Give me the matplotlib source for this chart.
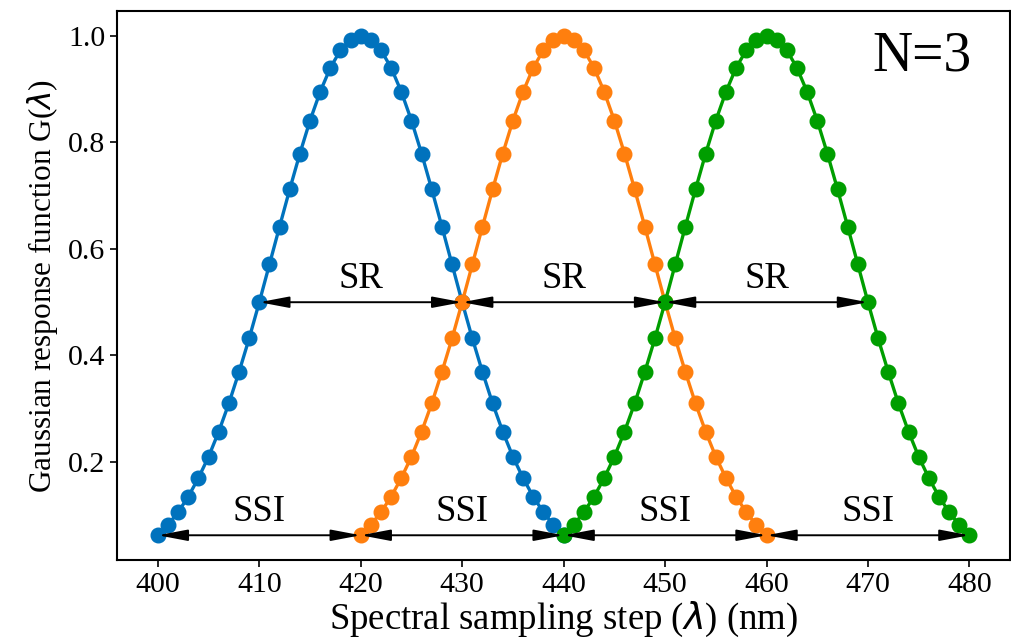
import matplotlib
matplotlib.use("Agg")
import matplotlib.pyplot as plt

# ---- data ----
wl_blue = list(range(400, 441))
wl_orange = list(range(420, 461))
wl_green = list(range(440, 481))

g_blue = [0.0625, 0.082, 0.106, 0.135, 0.170, 0.210, 0.257, 0.310, 0.369, 0.432,
          0.500, 0.571, 0.642, 0.712, 0.779, 0.841, 0.895, 0.940, 0.973, 0.993,
          1.000,
          0.993, 0.973, 0.940, 0.895, 0.841, 0.779, 0.712, 0.642, 0.571, 0.500,
          0.432, 0.369, 0.310, 0.257, 0.210, 0.170, 0.135, 0.106, 0.082, 0.0625]
g_orange = [0.0625, 0.082, 0.106, 0.135, 0.170, 0.210, 0.257, 0.310, 0.369, 0.432,
            0.500, 0.571, 0.642, 0.712, 0.779, 0.841, 0.895, 0.940, 0.973, 0.993,
            1.000,
            0.993, 0.973, 0.940, 0.895, 0.841, 0.779, 0.712, 0.642, 0.571, 0.500,
            0.432, 0.369, 0.310, 0.257, 0.210, 0.170, 0.135, 0.106, 0.082, 0.0625]
g_green = [0.0625, 0.082, 0.106, 0.135, 0.170, 0.210, 0.257, 0.310, 0.369, 0.432,
           0.500, 0.571, 0.642, 0.712, 0.779, 0.841, 0.895, 0.940, 0.973, 0.993,
           1.000,
           0.993, 0.973, 0.940, 0.895, 0.841, 0.779, 0.712, 0.642, 0.571, 0.500,
           0.432, 0.369, 0.310, 0.257, 0.210, 0.170, 0.135, 0.106, 0.082, 0.0625]

# SR annotations (half maximum) and SSI annotations (baseline)
sr_level = 0.5
sr_spans = [(410, 430), (430, 450), (450, 470)]
ssi_level = 0.0625
ssi_spans = [(400, 420), (420, 440), (440, 460), (460, 480)]

x_ticks = [400, 410, 420, 430, 440, 450, 460, 470, 480]
y_ticks = [0.2, 0.4, 0.6, 0.8, 1.0]

colors = ["#0072bd", "#ff7f0e", "#009e00"]

plt.rcParams["font.family"] = ["Liberation Serif", "DejaVu Serif"]
plt.rcParams["mathtext.fontset"] = "dejavusans"

fig = plt.figure(figsize=(10.11, 6.41), dpi=100)
ax = fig.add_axes([0.116, 0.126, 0.883, 0.857])

for wl, g, c in zip([wl_blue, wl_orange, wl_green], [g_blue, g_orange, g_green], colors):
    ax.plot(wl, g, color=c, lw=2.4, marker="o", ms=10.5, zorder=2)

arrow_kw = dict(arrowstyle="<|-|>,head_length=0.9,head_width=0.17",
                color="black", lw=1.4, shrinkA=0, shrinkB=0, mutation_scale=20)
for a, b in sr_spans:
    ax.annotate("", xy=(a, sr_level), xytext=(b, sr_level), arrowprops=arrow_kw, zorder=3)
    ax.text((a + b) / 2, sr_level + 0.012, "SR", ha="center", va="bottom", fontsize=26.5)
for a, b in ssi_spans:
    ax.annotate("", xy=(a, ssi_level), xytext=(b, ssi_level), arrowprops=arrow_kw, zorder=3)
    ax.text((a + b) / 2, ssi_level + 0.012, "SSI", ha="center", va="bottom", fontsize=26.5)

ax.text(0.957, 0.965, "N=3", transform=ax.transAxes, ha="right", va="top", fontsize=40)

ax.set_xticks(x_ticks)
ax.set_yticks(y_ticks)
ax.tick_params(labelsize=21.5, width=1.2, length=5)
for s in ax.spines.values():
    s.set_linewidth(1.5)
ax.set_xlabel(r"Spectral sampling step ($\lambda$) (nm)", fontsize=26.5, labelpad=1)
ax.set_ylabel(r"Gaussian response function G($\lambda$)", fontsize=22.5, labelpad=6)

fig.savefig("out.png", dpi=100)
